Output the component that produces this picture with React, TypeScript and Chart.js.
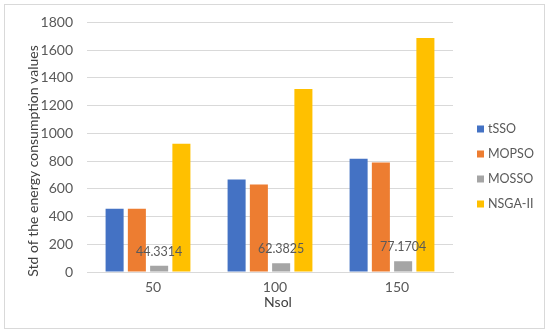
import React, { useEffect, useRef } from "react";
import { Chart, registerables } from "chart.js";

Chart.register(...registerables);

const categories = ["50", "100", "150"];
const seriesNames = ["tSSO", "MOPSO", "MOSSO", "NSGA-II"];
const tSSO = [456, 667, 816];
const MOPSO = [456, 631, 790];
const MOSSO = [44.3314, 62.3825, 77.1704];
const NSGA = [924, 1320, 1688];
const colors = ["#4472C4", "#ED7D31", "#A5A5A5", "#FFC000"];
const labelledSeries = 2;
const yTitle = "Std of the energy consumption values";
const xTitle = "Nsol";

const FONT = "Lato";

const extrasPlugin = {
  id: "extras",
  afterDraw(chart: any) {
    const ctx = chart.ctx;
    ctx.save();
    // outer border
    ctx.strokeStyle = "#d9d9d9";
    ctx.lineWidth = 1;
    ctx.strokeRect(4.5, 4.5, 540, 324);

    // value labels on MOSSO
    const meta = chart.getDatasetMeta(labelledSeries);
    ctx.fillStyle = "#595959";
    ctx.font = `12.5px ${FONT}`;
    ctx.textAlign = "center";
    ctx.textBaseline = "middle";
    meta.data.forEach((bar: any, i: number) => {
      const v = chart.data.datasets[labelledSeries].data[i];
      ctx.fillText(String(v), bar.x, bar.y - 14);
    });

    // axis titles
    ctx.fillStyle = "#404040";
    ctx.font = `14px ${FONT}`;
    ctx.save();
    ctx.translate(33, 161);
    ctx.rotate(-Math.PI / 2);
    ctx.fillText(yTitle, 0, 0);
    ctx.restore();
    ctx.font = `14px ${FONT}`;
    ctx.fillText(xTitle, 278, 302);

    // legend
    ctx.font = `12.5px ${FONT}`;
    ctx.textAlign = "left";
    chart.data.datasets.forEach((ds: any, i: number) => {
      const y = 129 + i * 25;
      ctx.fillStyle = ds.backgroundColor;
      ctx.fillRect(477, y - 3.5, 7, 7);
      ctx.fillStyle = "#595959";
      ctx.fillText(ds.label, 488, y);
    });
    ctx.restore();
  },
};

export default function App() {
  const ref = useRef<HTMLCanvasElement>(null);
  useEffect(() => {
    document.body.style.margin = "0";
    const all = [tSSO, MOPSO, MOSSO, NSGA];
    const chart = new Chart(ref.current!, {
      type: "bar",
      data: {
        labels: categories,
        datasets: seriesNames.map((n, i) => ({
          label: n,
          data: all[i],
          backgroundColor: colors[i],
          categoryPercentage: 0.73,
          barPercentage: 0.81,
        })),
      },
      options: {
        responsive: false,
        animation: false,
        layout: { padding: { left: 0, top: 21, right: 97, bottom: 0 } },
        plugins: { legend: { display: false }, tooltip: { enabled: false } },
        scales: {
          x: {
            grid: { display: false, drawTicks: false },
            border: { color: "#d9d9d9" },
            ticks: { color: "#595959", font: { family: FONT, size: 14 }, padding: 7, labelOffset: 5 },
            afterFit: (s: any) => { s.height = 62; },
          },
          y: {
            min: 0,
            max: 1800,
            ticks: {
              stepSize: 200,
              color: "#595959",
              font: { family: FONT, size: 14 },
              padding: 14,
              callback: (v: any) => String(v),
            },
            grid: { color: "#d9d9d9", drawTicks: false },
            border: { display: false },
            afterFit: (s: any) => { s.width = 87; },
          },
        },
      },
      plugins: [extrasPlugin],
    });
    return () => chart.destroy();
  }, []);
  return <canvas ref={ref} width={550} height={334} style={{ display: "block" }} />;
}
